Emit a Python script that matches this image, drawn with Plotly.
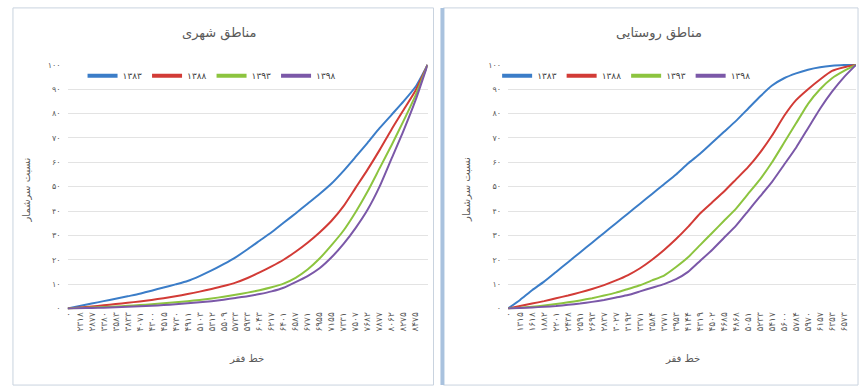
import plotly.graph_objects as go

# ---------------- data ----------------
years = ["۱۳۸۳", "۱۳۸۸", "۱۳۹۳", "۱۳۹۸"]
panel_titles = ["مناطق شهری", "مناطق روستایی"]
x_title = "خط فقر"
y_title = "نسبت سرشمار"

urban_ticks = [0, 2318, 2877, 3380, 3583, 3833, 4071, 4300, 4515, 4730, 4911, 5103, 5312, 5509, 5733,
               5933, 6043, 6217, 6401, 6587, 6771, 6955, 7155, 7331, 7507, 7682, 7877, 8062, 8275, 8475]
rural_ticks = [0, 1315, 1618, 1882, 2201, 2438, 2591, 2693, 2837, 3027, 3192, 3371, 3584, 3771, 3953,
               4144, 4319, 4502, 4685, 4868, 5051, 5233, 5417, 5600, 5784, 5970, 6157, 6353, 6573]

urban_1383 = [0, 1, 2, 3, 4, 5, 6, 7.3, 8.6, 9.9, 11.3, 13.3, 15.6, 18.2, 21, 24.3, 27.8, 31.3, 35.2, 39,
              43, 47, 51.3, 56.5, 62.2, 68, 74, 79.5, 85, 91, 100]
urban_1388 = [0, 0.4, 0.8, 1.3, 1.8, 2.3, 2.9, 3.5, 4.2, 5, 5.9, 6.9, 8, 9.2, 10.6, 12.5, 14.8, 17.3, 20,
              23.3, 27, 31.2, 36, 42, 49.5, 57, 65, 73.5, 81.5, 89.5, 100]
urban_1393 = [0, 0.2, 0.4, 0.6, 0.8, 1.1, 1.4, 1.7, 2.1, 2.5, 3, 3.5, 4.1, 4.8, 5.6, 6.5, 7.5, 8.7, 10.2,
              12.6, 16, 20.5, 26, 32, 39.5, 48, 57.5, 67, 77, 87.5, 100]
urban_1398 = [0, 0.1, 0.2, 0.3, 0.5, 0.7, 0.9, 1.1, 1.4, 1.7, 2.1, 2.5, 3, 3.6, 4.3, 5, 5.9, 7, 8.5,
              10.8, 13.3, 16.5, 21, 26.5, 33, 40.5, 50, 61.5, 73, 85.5, 100]

rural_1383 = [0, 3.5, 7.5, 11, 15, 19, 23, 27, 31, 35, 39, 43, 47, 51, 55, 59.5, 63.5, 68, 72.5, 77,
              82, 87, 91.5, 94.5, 96.5, 98, 99, 99.6, 99.9, 100]
rural_1388 = [0, 1, 2, 3, 4.2, 5.3, 6.6, 8, 9.6, 11.5, 13.7, 16.5, 20, 24, 28.5, 33.5, 39, 43.5, 48, 53,
              58, 64, 71, 79, 85.5, 90, 94, 97.5, 99, 100]
rural_1393 = [0, 0.3, 0.7, 1.2, 1.8, 2.5, 3.3, 4.2, 5.3, 6.5, 8, 9.5, 11.5, 13.5, 17, 21, 26, 31, 36,
              41, 47, 53, 60, 68, 76, 84, 90, 94.5, 97.5, 100]
rural_1398 = [0, 0.2, 0.4, 0.7, 1, 1.5, 2, 2.7, 3.5, 4.5, 5.5, 7, 8.5, 10, 12, 15, 19.5, 24, 29, 34,
              40, 46, 52, 59, 66, 74, 82, 89, 95, 100]

y_ticks = [0, 10, 20, 30, 40, 50, 60, 70, 80, 90, 100]

# ---------------- style ----------------
colors = ["#3b7dc8", "#d23b36", "#8cc43f", "#7b58a8"]
FONT = "DejaVu Sans"
TXT = "#595959"
GRID = "#e3e3e3"
FA = str.maketrans("0123456789", "۰۱۲۳۴۵۶۷۸۹")
W, H = 862, 392


def fa(v):
    return str(v).translate(FA)


def px(x):
    return x / W


def py(y):
    return 1 - y / H


fig = go.Figure()

panels = [
    dict(series=[urban_1383, urban_1388, urban_1393, urban_1398], ticks=urban_ticks,
         xa="x", ya="y", legend="legend", smooth=0.6),
    dict(series=[rural_1383, rural_1388, rural_1393, rural_1398], ticks=rural_ticks,
         xa="x2", ya="y2", legend="legend2", smooth=0.4),
]

for p in panels:
    for yr, col, vals in zip(years, colors, p["series"]):
        fig.add_trace(go.Scatter(
            x=list(range(len(vals))), y=vals, mode="lines",
            line=dict(color=col, width=2, shape="spline", smoothing=p["smooth"]),
            name=yr, showlegend=False,
            xaxis=p["xa"], yaxis=p["ya"], hoverinfo="skip"))
    for yr, col in zip(years, colors):
        fig.add_trace(go.Scatter(
            x=[None], y=[None], mode="lines", line=dict(color=col, width=4),
            name=yr, legend=p["legend"], xaxis=p["xa"], yaxis=p["ya"]))

ydom = [py(312), py(62)]
common_x = dict(showgrid=False, zeroline=False, showline=False, ticks="",
                tickangle=-90, tickfont=dict(family=FONT, size=9, color=TXT))
common_y = dict(range=[-0.4, 100.4], tickvals=y_ticks, ticktext=[fa(v) for v in y_ticks],
                showgrid=True, gridcolor=GRID, gridwidth=1, zeroline=False, showline=False,
                ticks="", ticklabelstandoff=6, tickfont=dict(family=FONT, size=8, color=TXT),
                domain=ydom)

legend_common = dict(orientation="h", y=py(74), xanchor="left", yanchor="middle",
                     bgcolor="rgba(0,0,0,0)", font=dict(family=FONT, size=9, color="#404040"),
                     itemwidth=30, tracegroupgap=0)

fig.update_layout(
    width=W, height=H, margin=dict(l=0, r=0, t=0, b=0),
    paper_bgcolor="white", plot_bgcolor="white",
    font=dict(family=FONT, color=TXT),
    xaxis=dict(domain=[px(63), px(425)], range=[0, len(urban_1383) - 1],
               tickvals=list(range(len(urban_ticks))), ticktext=[fa(v) for v in urban_ticks],
               **common_x),
    yaxis=dict(anchor="x", **common_y),
    xaxis2=dict(domain=[px(506), px(856)], range=[0, len(rural_1383) - 1],
                tickvals=list(range(len(rural_ticks))), ticktext=[fa(v) for v in rural_ticks],
                anchor="y2", **common_x),
    yaxis2=dict(anchor="x2", **common_y),
    legend=dict(x=px(78), **legend_common),
    legend2=dict(x=px(495), **legend_common),
)

# panel frames
fig.add_shape(type="rect", xref="paper", yref="paper", x0=px(8), x1=px(431),
              y0=py(389), y1=py(5), line=dict(color="#c9d3df", width=1))
fig.add_shape(type="rect", xref="paper", yref="paper", x0=px(441), x1=px(858),
              y0=py(389), y1=py(5), line=dict(color="#c9d3df", width=1))
fig.add_shape(type="line", xref="paper", yref="paper", x0=px(440), x1=px(440),
              y0=py(389), y1=py(5), line=dict(color="#a9c2de", width=4))

# titles
ann = dict(xref="paper", yref="paper", showarrow=False, xanchor="center", yanchor="middle")
for xc, t in zip([215, 658], panel_titles):
    fig.add_annotation(x=px(xc), y=py(31), text=t,
                       font=dict(family=FONT, size=13, color=TXT), **ann)
for xc in [243, 681]:
    fig.add_annotation(x=px(xc), y=py(362), text=x_title,
                       font=dict(family=FONT, size=10, color=TXT), **ann)
for xc in [22, 464]:
    fig.add_annotation(x=px(xc), y=py(190), text=y_title, textangle=-90,
                       font=dict(family=FONT, size=10, color=TXT), **ann)

fig.write_html("out.html", config={"displayModeBar": False},
               post_script="document.body.style.margin='0';document.body.style.overflow='hidden';")
